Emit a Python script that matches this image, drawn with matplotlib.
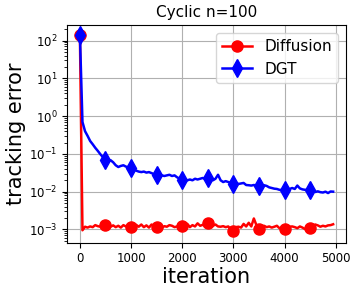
import numpy as np
import matplotlib
matplotlib.use('Agg')
import matplotlib.pyplot as plt

# sampled every 50 iterations
iters = np.arange(0, 5000, 50)

diffusion = [140, 0.00095, 0.00118, 0.00112, 0.00120, 0.00115, 0.00130, 0.00122, 0.00118, 0.00128,
             0.00135, 0.00125, 0.00118, 0.00128, 0.00115, 0.00125, 0.00112, 0.00130, 0.00120, 0.00125,
             0.00118, 0.00115, 0.00132, 0.00118, 0.00135, 0.00115, 0.00128, 0.00112, 0.00135, 0.00120,
             0.00118, 0.00125, 0.00110, 0.00122, 0.00118, 0.00130, 0.00125, 0.00115, 0.00120, 0.00112,
             0.00122, 0.00118, 0.00140, 0.00115, 0.00130, 0.00120, 0.00145, 0.00125, 0.00132, 0.00138,
             0.00144, 0.00130, 0.00125, 0.00135, 0.00120, 0.00118, 0.00122, 0.00115, 0.00120, 0.00100,
             0.00089, 0.00115, 0.00118, 0.00112, 0.00140, 0.00120, 0.00150, 0.00120, 0.00195, 0.00130,
             0.00102, 0.00118, 0.00125, 0.00115, 0.00120, 0.00112, 0.00118, 0.00125, 0.00108, 0.00105,
             0.00102, 0.00108, 0.00118, 0.00120, 0.00115, 0.00108, 0.00120, 0.00112, 0.00102, 0.00108,
             0.00106, 0.00120, 0.00135, 0.00128, 0.00118, 0.00125, 0.00120, 0.00128, 0.00130, 0.00137]

dgt = [145, 0.7, 0.40, 0.30, 0.22, 0.18, 0.145, 0.12, 0.098, 0.082,
       0.067, 0.063, 0.068, 0.060, 0.050, 0.045, 0.048, 0.050, 0.046, 0.044,
       0.043, 0.040, 0.036, 0.034, 0.033, 0.034, 0.032, 0.033, 0.031, 0.029,
       0.027, 0.028, 0.027, 0.026, 0.027, 0.028, 0.026, 0.027, 0.024, 0.022,
       0.020, 0.021, 0.020, 0.021, 0.020, 0.022, 0.021, 0.022, 0.023, 0.022,
       0.023, 0.021, 0.020, 0.022, 0.028, 0.020, 0.018, 0.019, 0.018, 0.017,
       0.016, 0.017, 0.016, 0.0165, 0.017, 0.015, 0.0148, 0.0145, 0.015, 0.0145,
       0.0145, 0.014, 0.0148, 0.0142, 0.013, 0.0125, 0.012, 0.0118, 0.0112, 0.011,
       0.0108, 0.0112, 0.0118, 0.0125, 0.0118, 0.0145, 0.0122, 0.0115, 0.0112, 0.0110,
       0.0108, 0.0105, 0.0098, 0.0102, 0.0097, 0.0095, 0.0100, 0.0092, 0.0101, 0.0100]

fig = plt.figure(figsize=(3.57, 2.92), dpi=100)
ax = fig.add_axes([0.188, 0.169, 0.781, 0.745])
ax.plot(iters, diffusion, color='red', marker='o', markersize=8, markevery=10, lw=1.8, label='Diffusion')
ax.plot(iters, dgt, color='blue', marker='d', markersize=9, markevery=10, lw=1.8, label='DGT')
ax.set_yscale('log')
ax.set_ylim(10**-3.35, 10**2.41)
ax.set_xlim(-250, 5200)
ax.set_xticks([0, 1000, 2000, 3000, 4000, 5000])
ax.grid(True)
ax.tick_params(labelsize=8.5)
ax.set_title('Cyclic n=100', fontsize=11)
ax.set_xlabel('iteration', fontsize=15, labelpad=1)
ax.set_ylabel('tracking error', fontsize=15, labelpad=2)
ax.legend(fontsize=11, loc='upper right')
fig.savefig('out.png', dpi=100)
